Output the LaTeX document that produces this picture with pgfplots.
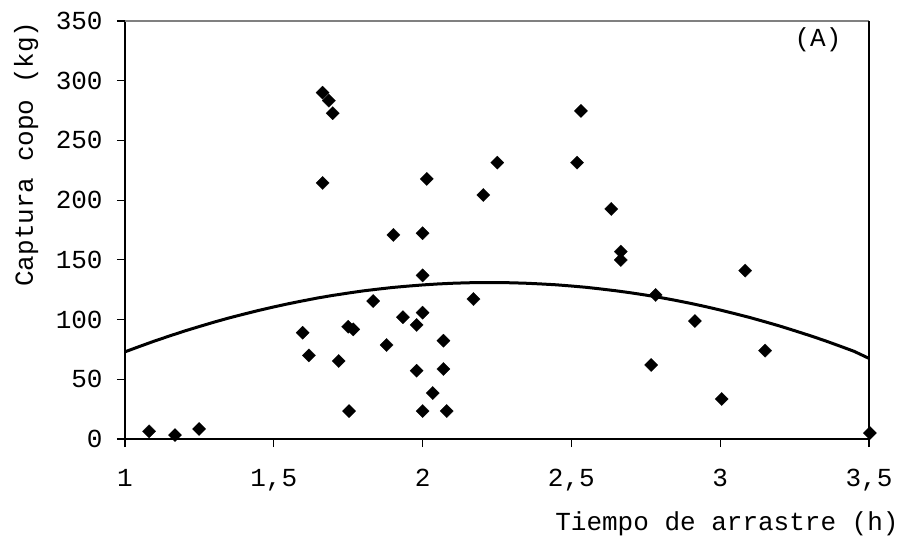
\documentclass[border=0pt]{standalone}
\usepackage{fontspec}
\setmainfont{Liberation Mono}
\usepackage{pgfplots}
\pgfplotsset{compat=1.18}
\begin{document}
\fontsize{13}{15}\selectfont
\begin{tikzpicture}
\useasboundingbox (-62.5pt,-54pt) rectangle (388pt,219.5pt);
\begin{axis}[
  at={(0,0)}, anchor=south west,
  scale only axis, width=372pt, height=209pt,
  xmin=1, xmax=3.5, ymin=0, ymax=350,
  axis x line*=bottom, axis y line*=left,
  axis line style={line width=0.6pt, black},
  tick align=outside, major tick length=4pt,
  tick style={line width=0.6pt, black},
  xtick={1,1.5,2,2.5,3,3.5},
  xticklabels={1,{1,5},2,{2,5},3,{3,5}},
  ytick={0,50,100,150,200,250,300,350},
  yticklabels={0,50,100,150,200,250,300,350},
  xticklabel style={anchor=base, inner sep=0pt, yshift=-19.5pt},
  yticklabel style={anchor=east, inner sep=0pt, xshift=-7pt},
  clip=false,
]
\addplot[black, line width=1.5pt, no marks] coordinates {
(1.00,73.0) (1.05,77.6) (1.10,82.1) (1.15,86.3) (1.20,90.4) (1.25,94.2)
(1.30,97.9) (1.35,101.4) (1.40,104.6) (1.45,107.7) (1.50,110.6) (1.55,113.3)
(1.60,115.8) (1.65,118.2) (1.70,120.3) (1.75,122.2) (1.80,124.0) (1.85,125.5)
(1.90,126.9) (1.95,128.0) (2.00,129.0) (2.05,129.8) (2.10,130.4) (2.15,130.8)
(2.20,131.0) (2.25,131.0) (2.30,130.8) (2.35,130.4) (2.40,129.8) (2.45,129.1)
(2.50,128.1) (2.55,127.0) (2.60,125.6) (2.65,124.1) (2.70,122.4) (2.75,120.5)
(2.80,118.4) (2.85,116.1) (2.90,113.6) (2.95,110.9) (3.00,108.0) (3.05,104.9)
(3.10,101.7) (3.15,98.2) (3.20,94.6) (3.25,90.7) (3.30,86.7) (3.35,82.5)
(3.40,78.0) (3.45,73.4) (3.50,67.5)
};
\addplot[only marks, mark=square*, mark size=2.35pt,
  mark options={rotate=45, fill=black, draw=black, line width=0.1pt}] coordinates {
(1.081,6.4) (1.168,3.3) (1.249,8.4) (1.597,89) (1.618,70) (1.718,65.3)
(1.750,94) (1.767,91.8) (1.753,23.4) (1.834,115.5) (1.879,78.7) (1.934,102)
(1.980,95.5) (2.000,105.8) (2.000,137) (1.980,57.2) (2.034,38.5) (2.000,23.4)
(2.070,82.3) (2.070,58.6) (2.081,23.4) (1.664,290) (1.685,283.3) (1.698,272.8)
(1.664,214.4) (2.014,217.8) (1.902,170.9) (2.000,172.3) (2.532,274.7) (2.251,231.4)
(2.519,231.4) (2.204,204.3) (2.634,192.6) (2.666,156.9) (2.666,149.9) (3.084,141)
(2.171,117.2) (2.783,120.6) (2.915,98.8) (2.768,62) (3.151,74) (3.005,33.5)
(3.503,5)
};
\draw[line width=0.6pt, black!50] (rel axis cs:0,1) -- (rel axis cs:1,1);
\draw[line width=0.6pt, black] (rel axis cs:1,0) -- (rel axis cs:1,1);
\end{axis}
\node[rotate=90, anchor=base, inner sep=0pt] at (-46pt,142.5pt) {Captura copo (kg)};
\node[anchor=base east, inner sep=0pt] at (387pt,-45.5pt) {Tiempo de arrastre (h)};
\node[inner sep=0pt] at (346.5pt,199.5pt) {(A)};
\end{tikzpicture}
\end{document}
